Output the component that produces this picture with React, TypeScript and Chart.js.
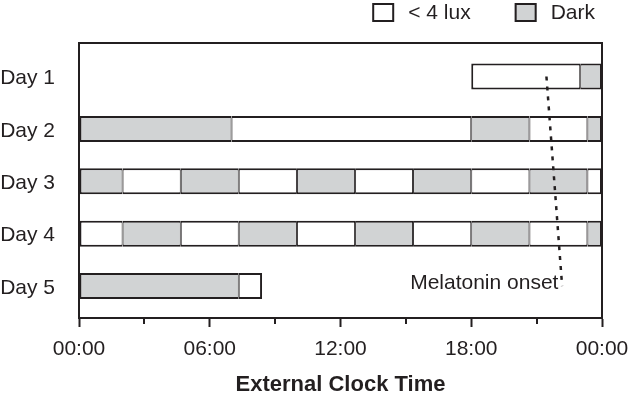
import React, { useEffect, useRef } from 'react';
import { Chart, registerables } from 'chart.js';

Chart.register(...registerables);

const FONT = "'Liberation Sans', Arial, sans-serif";
const INK = '#231f20';
const GRAY = '#d1d3d4';
const WHITE = '#ffffff';
const FS = 21;

// Y categories
const dayValues = [1, 2, 3, 4, 5];
const dayLabels = ['Day 1', 'Day 2', 'Day 3', 'Day 4', 'Day 5'];

// X ticks (hours)
const hourTicks = [0, 6, 12, 18, 24];
const hourTickLabels = ['00:00', '06:00', '12:00', '18:00', '00:00'];
const minorHourTicks = [3, 9, 15, 21];

// "< 4 lux" intervals
const lowLuxDay = [1, 2, 2, 3, 3, 3, 3, 3, 4, 4, 4, 4, 4, 5];
const lowLuxStart = [18, 7, 20.67, 2, 7.33, 12.67, 18, 23.33, 0, 4.67, 10, 15.33, 20.67, 7.33];
const lowLuxEnd = [23, 18, 23.33, 4.67, 10, 15.33, 20.67, 24, 2, 7.33, 12.67, 18, 23.33, 8.4];

// "Dark" intervals
const darkDay = [1, 2, 2, 2, 3, 3, 3, 3, 3, 4, 4, 4, 4, 4, 5];
const darkStart = [23, 0, 18, 23.33, 0, 4.67, 10, 15.33, 20.67, 2, 7.33, 12.67, 18, 23.33, 0];
const darkEnd = [24, 7, 20.67, 24, 2, 7.33, 12.67, 18, 23.33, 4.67, 10, 15.33, 20.67, 24, 7.33];

// Melatonin onset dotted line
const onsetHour = [21.45, 22.17];
const onsetDay = [1, 5];
const onsetLabel = 'Melatonin onset';
const onsetLabelHour = 22.0;
const onsetLabelDay = 4.95;

const legendLabels = ['< 4 lux', 'Dark'];
const xTitle = 'External Clock Time';

type Seg = { x: [number, number]; y: number };

const lowLuxData: Seg[] = lowLuxDay.map((d, i) => ({ x: [lowLuxStart[i], lowLuxEnd[i]], y: d }));
const darkData: Seg[] = darkDay.map((d, i) => ({ x: [darkStart[i], darkEnd[i]], y: d }));
const allSegs: Seg[] = [...lowLuxData, ...darkData];

function segBorder(ctx: any) {
  const raw = ctx.raw as Seg | undefined;
  if (!raw || !raw.x) return 2;
  const leftShared = allSegs.some((s) => s.y === raw.y && s.x[1] === raw.x[0]);
  const rightShared = allSegs.some((s) => s.y === raw.y && s.x[0] === raw.x[1]);
  return { top: 2, bottom: 2, left: leftShared ? 1 : 2, right: rightShared ? 1 : 2 };
}

const framePlugin = {
  id: 'frame',
  afterDatasetsDraw(chart: any) {
    const { ctx, chartArea: a } = chart;
    ctx.save();
    ctx.strokeStyle = INK;
    ctx.lineWidth = 2;
    ctx.strokeRect(a.left, a.top, a.right - a.left, a.bottom - a.top);
    ctx.restore();
  },
};

const minorTickPlugin = {
  id: 'minorTicks',
  afterDraw(chart: any) {
    const { ctx, chartArea: a } = chart;
    const xs = chart.scales.x;
    ctx.save();
    ctx.strokeStyle = INK;
    ctx.lineWidth = 2;
    minorHourTicks.forEach((h) => {
      const px = Math.round(xs.getPixelForValue(h));
      ctx.beginPath();
      ctx.moveTo(px, a.bottom);
      ctx.lineTo(px, a.bottom + 6);
      ctx.stroke();
    });
    ctx.restore();
  },
};

const annotationPlugin = {
  id: 'onsetLabel',
  afterDraw(chart: any) {
    const { ctx } = chart;
    const xs = chart.scales.x;
    const ys = chart.scales.y;
    ctx.save();
    ctx.fillStyle = INK;
    ctx.font = `${FS}px ${FONT}`;
    ctx.textAlign = 'right';
    ctx.textBaseline = 'middle';
    ctx.fillText(onsetLabel, xs.getPixelForValue(onsetLabelHour), ys.getPixelForValue(onsetLabelDay));
    ctx.restore();
  },
};

const legendPlugin = {
  id: 'customLegend',
  afterDraw(chart: any) {
    const { ctx } = chart;
    const fills = [WHITE, GRAY];
    ctx.save();
    ctx.font = `${FS}px ${FONT}`;
    ctx.textBaseline = 'middle';
    ctx.textAlign = 'left';
    let cursor = chart.width - 34;
    for (let i = legendLabels.length - 1; i >= 0; i--) {
      const tw = ctx.measureText(legendLabels[i]).width;
      const textX = cursor - tw;
      const boxX = textX - 14 - 22;
      ctx.fillStyle = fills[i];
      ctx.fillRect(boxX, 3, 22, 19);
      ctx.strokeStyle = INK;
      ctx.lineWidth = 2;
      ctx.strokeRect(boxX + 1, 4, 20, 17);
      ctx.fillStyle = INK;
      ctx.fillText(legendLabels[i], textX, 13);
      cursor = boxX - 44;
    }
    ctx.restore();
  },
};

export default function App() {
  const ref = useRef<HTMLCanvasElement | null>(null);

  useEffect(() => {
    document.body.style.margin = '0';
    if (!ref.current) return;
    const chart = new Chart(ref.current, {
      type: 'bar',
      data: {
        datasets: [
          {
            type: 'line',
            label: 'onset',
            data: onsetHour.map((h, i) => ({ x: h, y: onsetDay[i] })),
            borderColor: INK,
            borderWidth: 2.5,
            borderDash: [4, 6],
            pointRadius: 0,
            fill: false,
            order: 0,
          } as any,
          {
            label: legendLabels[0],
            data: lowLuxData as any,
            backgroundColor: WHITE,
            borderColor: INK,
            borderWidth: segBorder as any,
            borderSkipped: false,
            inflateAmount: 0,
            barThickness: 26,
            grouped: false,
            order: 1,
          },
          {
            label: legendLabels[1],
            data: darkData as any,
            backgroundColor: GRAY,
            borderColor: INK,
            borderWidth: segBorder as any,
            borderSkipped: false,
            inflateAmount: 0,
            barThickness: 26,
            grouped: false,
            order: 2,
          },
        ],
      },
      options: {
        indexAxis: 'y',
        responsive: false,
        animation: false,
        devicePixelRatio: 1,
        layout: { padding: { top: 43, right: 27, left: 0, bottom: 0 } },
        plugins: { legend: { display: false }, tooltip: { enabled: false } },
        scales: {
          x: {
            type: 'linear',
            position: 'bottom',
            offset: false,
            min: 0,
            max: 24,
            afterBuildTicks: (s: any) => {
              s.ticks = hourTicks.map((v) => ({ value: v }));
            },
            afterFit: (s: any) => {
              s.height = 83;
              s.paddingLeft = 0;
              s.paddingRight = 0;
            },
            ticks: {
              autoSkip: false,
              maxRotation: 0,
              padding: 10,
              color: INK,
              font: { family: FONT, size: FS },
              callback: (v: any) => hourTickLabels[hourTicks.indexOf(Number(v))],
            },
            grid: { drawOnChartArea: false, offset: false, tickLength: 9, tickWidth: 2, tickColor: INK, color: INK },
            border: { display: true, color: INK, width: 2 },
            title: {
              display: true,
              text: xTitle,
              color: INK,
              font: { family: FONT, size: 22, weight: 'bold' },
              padding: { top: 0, bottom: 3 },
            },
          },
          y: {
            type: 'linear',
            offset: false,
            min: 0.36,
            max: 5.61,
            reverse: true,
            afterBuildTicks: (s: any) => {
              s.ticks = dayValues.map((v) => ({ value: v }));
            },
            afterFit: (s: any) => {
              s.width = 79;
            },
            ticks: {
              autoSkip: false,
              padding: 24,
              labelOffset: 2,
              color: INK,
              font: { family: FONT, size: FS },
              callback: (v: any) => dayLabels[dayValues.indexOf(Number(v))],
            },
            grid: { display: false, drawTicks: false, offset: false },
            border: { display: false },
          },
        },
      } as any,
      plugins: [framePlugin, minorTickPlugin, annotationPlugin, legendPlugin],
    });
    return () => chart.destroy();
  }, []);

  return (
    <div style={{ width: 629, height: 401 }}>
      <canvas ref={ref} width={629} height={401} style={{ display: 'block' }} />
    </div>
  );
}
